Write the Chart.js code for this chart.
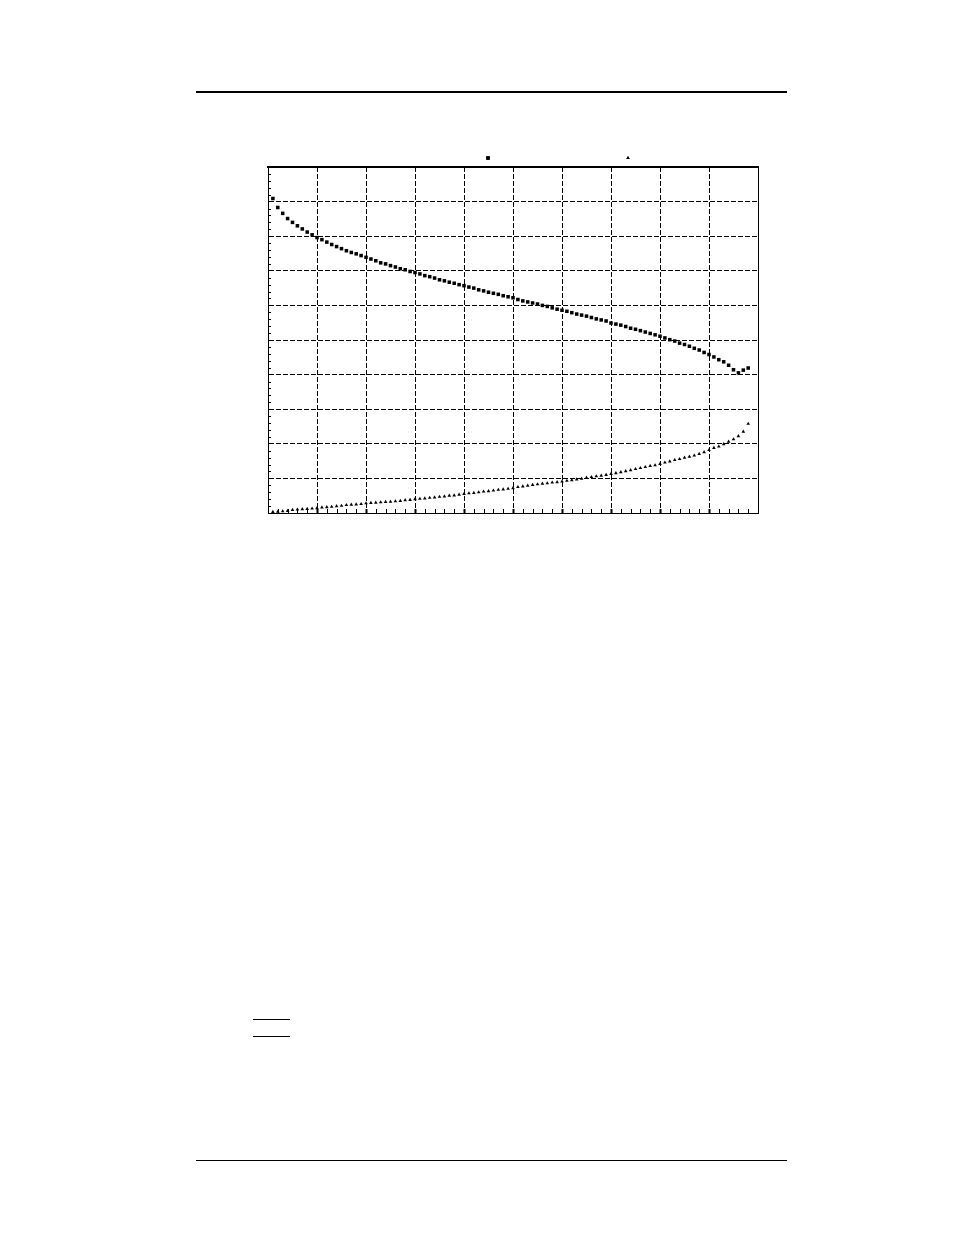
<!DOCTYPE html>
<html>
<head>
<meta charset="utf-8">
<script src="https://cdn.jsdelivr.net/npm/chart.js@4"></script>
<style>
  body { margin:0; background:#fff; width:954px; height:1235px; position:relative; overflow:hidden; }
  .rule { position:absolute; background:#000; }
  #wrap { position:absolute; left:258px; top:150px; width:510px; height:375px; }
</style>
</head>
<body>
<div class="rule" style="left:196px;top:91px;width:591px;height:2px"></div>
<div class="rule" style="left:253px;top:1019px;width:37px;height:1px"></div>
<div class="rule" style="left:253px;top:1036px;width:37px;height:1px"></div>
<div class="rule" style="left:196px;top:1160px;width:591px;height:1px"></div>
<div id="wrap"><canvas id="mychart"></canvas></div>
<script>
// x positions of the samples
var xs = [0.1,0.2,0.3,0.4,0.5,0.6,0.7,0.8,0.9,1.0,
          1.1,1.2,1.3,1.4,1.5,1.6,1.7,1.8,1.9,2.0,
          2.1,2.2,2.3,2.4,2.5,2.6,2.7,2.8,2.9,3.0,
          3.1,3.2,3.3,3.4,3.5,3.6,3.7,3.8,3.9,4.0,
          4.1,4.2,4.3,4.4,4.5,4.6,4.7,4.8,4.9,5.0,
          5.1,5.2,5.3,5.4,5.5,5.6,5.7,5.8,5.9,6.0,
          6.1,6.2,6.3,6.4,6.5,6.6,6.7,6.8,6.9,7.0,
          7.1,7.2,7.3,7.4,7.5,7.6,7.7,7.8,7.9,8.0,
          8.1,8.2,8.3,8.4,8.5,8.6,8.7,8.8,8.9,9.0,
          9.1,9.2,9.3,9.4,9.5,9.6,9.7,9.8]

// square series (upper curve)
var squares = [9.09,8.83,8.66,8.51,8.40,8.30,8.21,8.12,8.04,7.96,
               7.90,7.83,7.76,7.70,7.64,7.58,7.53,7.49,7.44,7.39,
               7.34,7.29,7.23,7.20,7.15,7.11,7.06,7.03,6.98,6.95,
               6.91,6.86,6.83,6.79,6.74,6.71,6.67,6.64,6.60,6.57,
               6.53,6.50,6.45,6.42,6.38,6.35,6.32,6.28,6.25,6.22,
               6.17,6.13,6.10,6.07,6.04,6.00,5.97,5.93,5.89,5.86,
               5.83,5.79,5.75,5.72,5.69,5.65,5.61,5.58,5.55,5.49,
               5.46,5.43,5.39,5.34,5.31,5.27,5.23,5.19,5.15,5.11,
               5.06,5.01,4.97,4.91,4.87,4.82,4.76,4.71,4.64,4.58,
               4.51,4.43,4.37,4.27,4.14,4.05,4.13,4.19]

// triangle series (lower curve)
var triangles = [0.03,0.04,0.05,0.06,0.09,0.10,0.11,0.12,0.13,0.14,
                 0.16,0.17,0.18,0.20,0.21,0.23,0.24,0.25,0.26,0.28,
                 0.29,0.30,0.31,0.32,0.33,0.34,0.35,0.37,0.38,0.40,
                 0.41,0.42,0.44,0.45,0.47,0.48,0.50,0.51,0.53,0.55,
                 0.57,0.58,0.60,0.62,0.63,0.65,0.67,0.68,0.70,0.72,
                 0.75,0.77,0.79,0.81,0.83,0.85,0.86,0.88,0.89,0.91,
                 0.93,0.95,0.97,0.99,1.02,1.04,1.06,1.08,1.10,1.13,
                 1.15,1.18,1.21,1.24,1.27,1.30,1.33,1.36,1.38,1.42,
                 1.46,1.49,1.53,1.56,1.60,1.63,1.66,1.71,1.76,1.82,
                 1.88,1.92,1.99,2.06,2.13,2.22,2.35,2.58]

var xMin = 0, xMax = 10
var yMin = 0, yMax = 10

function pts(ys){
    var out = []
    for (var i = 0; i < xs.length; i++) out.push({x: xs[i], y: ys[i]})
    return out
}

// minor ticks inside the frame + legend markers (no text in the picture)
var extras = {
    id: 'extras',
    afterDraw: function(chart){
        var ctx = chart.ctx, a = chart.chartArea
        var sx = chart.scales.x, sy = chart.scales.y
        ctx.save()
        ctx.strokeStyle = '#000'
        for (var v = 2; v < 100; v += 2) {
            if (v % 10 === 0) continue
            var py = Math.round(sy.getPixelForValue(v / 10)) + 0.5
            ctx.lineWidth = 1
            ctx.beginPath(); ctx.moveTo(a.left, py); ctx.lineTo(a.left + 3, py); ctx.stroke()
        }
        for (var u = 2; u < 100; u += 2) {
            var px = Math.round(sx.getPixelForValue(u / 10)) + 0.5
            ctx.lineWidth = (u % 10 === 0) ? 2 : 1
            ctx.beginPath(); ctx.moveTo(px, a.bottom); ctx.lineTo(px, a.bottom - 4); ctx.stroke()
        }
        ctx.fillStyle = '#000'
        Chart.helpers.drawPoint(ctx, {pointStyle: 'rect', radius: 2.5, rotation: 0, borderWidth: 0}, a.left + 220, a.top - 9)
        ctx.fill()
        Chart.helpers.drawPoint(ctx, {pointStyle: 'triangle', radius: 2, rotation: 0, borderWidth: 0}, a.left + 360, a.top - 9)
        ctx.fill()
        ctx.restore()
    }
}

var gridOpts = {color: '#000', lineWidth: 1, drawTicks: false}

var chart = new Chart(document.getElementById('mychart').getContext('2d'), {
    type: 'scatter',
    data: {
        datasets: [
            {
                label: 'squares',
                data: pts(squares),
                pointStyle: 'rect',
                pointRadius: 2.5,
                backgroundColor: '#000',
                borderWidth: 0
            },
            {
                label: 'triangles',
                data: pts(triangles),
                pointStyle: 'triangle',
                pointRadius: 2.1,
                backgroundColor: '#000',
                borderWidth: 0
            }
        ]
    },
    options: {
        responsive: true,
        maintainAspectRatio: false,
        animation: false,
        layout: {padding: {left: 10, top: 17, right: 10, bottom: 12}},
        plugins: {legend: {display: false}, tooltip: {enabled: false}},
        scales: {
            x: {
                type: 'linear', min: xMin, max: xMax,
                ticks: {display: false, stepSize: 1},
                grid: gridOpts,
                border: {color: '#000', width: 1, dash: [5, 2]}
            },
            y: {
                type: 'linear', min: yMin, max: yMax,
                ticks: {display: false, stepSize: 1},
                grid: gridOpts,
                border: {color: '#000', width: 1, dash: [5, 2]}
            },
            x2: {
                type: 'linear', position: 'top', min: xMin, max: xMax,
                ticks: {display: false}, grid: {display: false, drawTicks: false},
                border: {color: '#000', width: 2}
            },
            y2: {
                type: 'linear', position: 'right', min: yMin, max: yMax,
                ticks: {display: false}, grid: {display: false, drawTicks: false},
                border: {color: '#000', width: 1}
            }
        }
    },
    plugins: [extras]
})
</script>
</body>
</html>
